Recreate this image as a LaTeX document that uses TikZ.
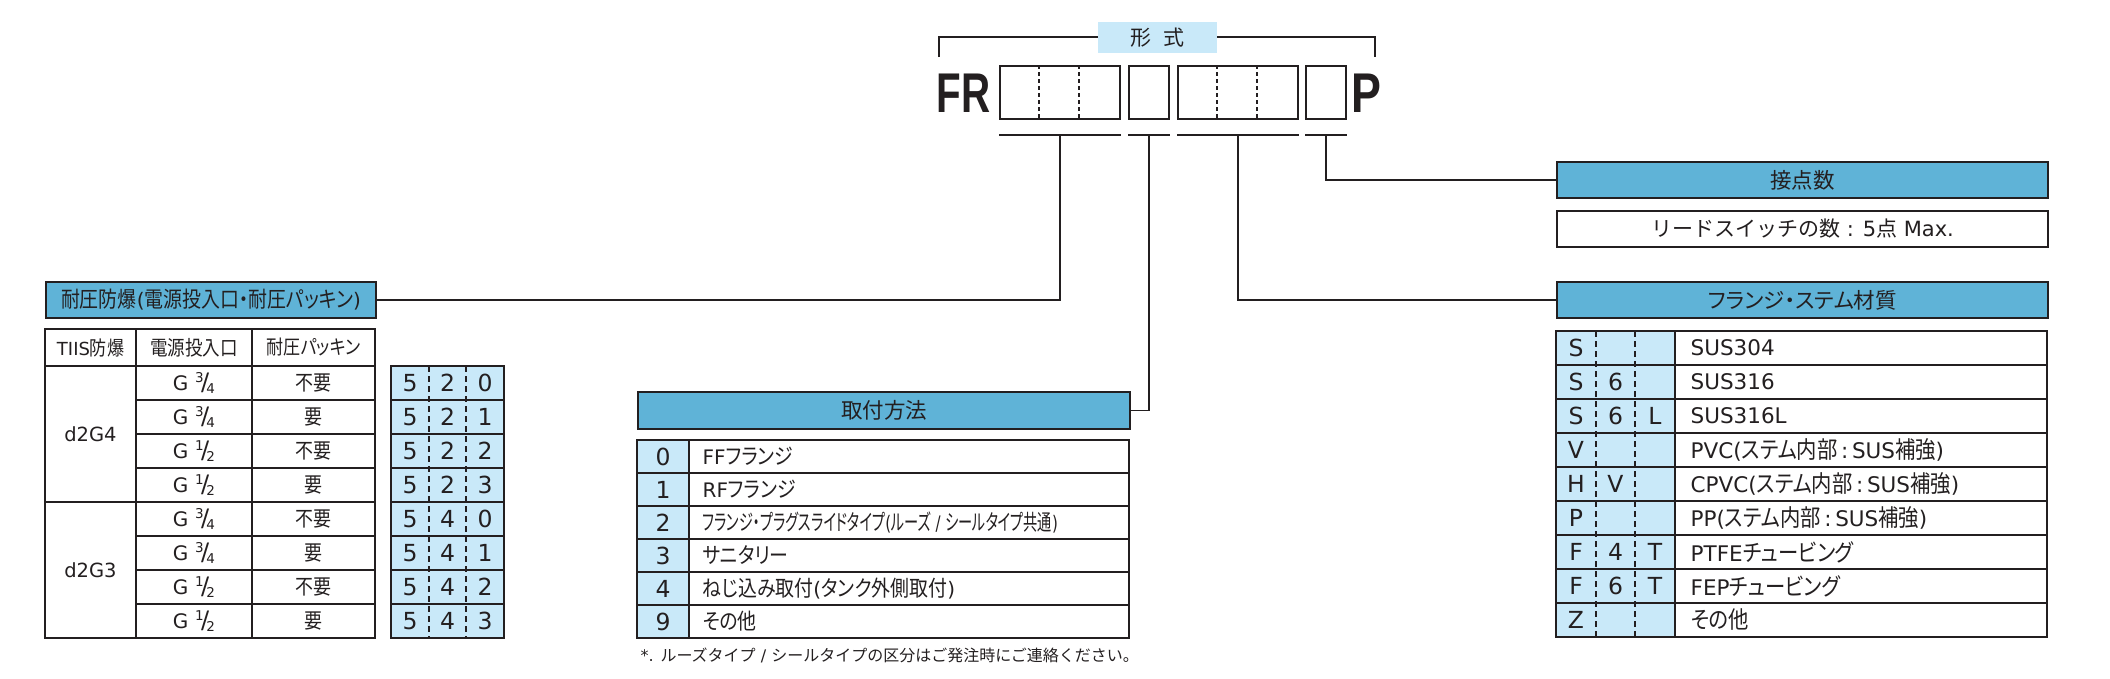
\documentclass[tikz,border=0pt]{standalone}
\usepackage{fontspec}
\setmainfont{DejaVu Sans}
\newfontfamily\latfont{DejaVu Sans}
\newfontfamily\jpfont{Noto Sans CJK JP}[RawFeature=+palt,Scale=1.1,FakeStretch=0.86]
\newfontfamily\jphead{Noto Sans CJK JP}[RawFeature=+palt]
\newfontfamily\jpwide{Noto Sans CJK JP}
\newfontfamily\frfont{Liberation Sans}
% kana and kanji switch to the Japanese font by themselves
\XeTeXinterchartokenstate=1
\newXeTeXintercharclass\cjkclass
\newcount\cjkc
\def\setcjkrange#1#2{\cjkc=#1\relax\loop\XeTeXcharclass\cjkc=\cjkclass\relax\ifnum\cjkc<#2\advance\cjkc by 1\repeat}
\setcjkrange{"3000}{"30FF}
\setcjkrange{"4E00}{"9FFF}
\setcjkrange{"FF00}{"FFEF}
\let\cjkfont\jpfont
\def\widecjk{\let\cjkfont\jpwide}
\def\headcjk{\let\cjkfont\jphead}
\makeatletter
\XeTeXinterchartoks 0 \cjkclass = {\cjkfont}
\XeTeXinterchartoks \e@alloc@intercharclass@top \cjkclass = {\cjkfont}
\XeTeXinterchartoks \cjkclass 0 = {\latfont}
\XeTeXinterchartoks \cjkclass \e@alloc@intercharclass@top = {\latfont}
\makeatother
\usepackage{tikz}
\usetikzlibrary{positioning}
\usetikzlibrary{calc}
\definecolor{hdblue}{HTML}{5FB3D7}
\definecolor{cellblue}{HTML}{C9E9F9}
\definecolor{ink}{HTML}{231F20}
\tikzstyle{header}=[draw=ink,fill=hdblue,line width=2pt,inner sep=0pt,anchor=north west,font=\headcjk\fontsize{21.5}{21.5}\selectfont]
\tikzstyle{fmtbox}=[draw=ink,line width=2pt,inner sep=0pt,minimum height=53pt,anchor=north west]
\tikzstyle{cell}=[inner sep=0pt,font=\fontsize{19}{19}\selectfont]
\tikzstyle{code}=[inner sep=0pt,font=\fontsize{23.5}{23.5}\selectfont]
\tikzstyle{tbl}=[draw=ink,line width=2pt]
\tikzstyle{rowline}=[draw=ink,line width=1.3pt]
\tikzstyle{sep}=[draw=ink,line width=1.3pt,dash pattern=on 6pt off 4pt]
\newcommand\gfrac[2]{{\fontsize{20}{20}\selectfont G}\hspace{.35em}\raisebox{.42em}{\fontsize{13.5}{13.5}\selectfont#1}\kern-.14em{\fontsize{24}{24}\selectfont/}\kern-.14em\raisebox{-.12em}{\fontsize{13.5}{13.5}\selectfont#2}}

\begin{document}
\begin{tikzpicture}[x=1pt,y=-1pt,line width=1.3pt,draw=ink,text=ink]
\useasboundingbox (0,0) rectangle (2110,678);

% model code
\draw (939,57) -- (939,37) -- (1375,37) -- (1375,57);
\node[fill=cellblue,minimum width=119pt,minimum height=31pt,inner sep=0pt,font=\headcjk\fontsize{21}{21}\selectfont] (kei) at (1157.5,37.5) {形\hspace{.6em}式};
\node[inner sep=0pt,anchor=base east,font=\frfont\bfseries\fontsize{56}{56}\selectfont] (fr) at (991,112) {\scalebox{.72}[1]{FR}};
\node[fmtbox,minimum width=120pt] (fbA) at (999,65) {};
\node[fmtbox,minimum width=40pt] (fbB) at (1128,65) {};
\node[fmtbox,minimum width=120pt] (fbC) at (1177,65) {};
\node[fmtbox,minimum width=40pt] (fbD) at (1305,65) {};
\node[inner sep=0pt,anchor=base west,font=\frfont\bfseries\fontsize{56}{56}\selectfont] (p) at (1351,112) {\scalebox{.8}[1]{P}};
\foreach \b in {fbA,fbC}
  \foreach \d in {40,80}
    \draw[sep,line width=1.5pt,dash pattern=on 4pt off 3pt] ($(\b.north west)+(\d,0)$) -- ($(\b.south west)+(\d,0)$);
\foreach \b in {fbA,fbB,fbC,fbD}
  \draw ($(\b.south west)+(0,15)$) -- ($(\b.south east)+(0,15)$);
\coordinate (uA) at ($(fbA.south)+(0,15)$);
\coordinate (uB) at ($(fbB.south)+(0,15)$);
\coordinate (uC) at ($(fbC.south)+(0,15)$);
\coordinate (uD) at ($(fbD.south)+(0,15)$);

% headers
\node[header,minimum width=330pt,minimum height=36pt,font=\fontsize{20}{20}\selectfont\let\cjkfont\jpfont] (hdPress) at (45,281) {耐圧防爆(電源投入口・耐圧パッキン)};
\node[header,minimum width=492pt,minimum height=37pt] (hdMount) at (637,391) {取付方法};
\node[header,minimum width=491pt,minimum height=36pt] (hdCount) at (1556,161) {接点数};
\node[header,fill=white,minimum width=491pt,minimum height=36pt,font=\widecjk\fontsize{21}{21}\selectfont] (boxRead) at (1556,210) {リードスイッチの数 : 5点 Max.};
\node[header,minimum width=491pt,minimum height=36pt] (hdMat) at (1556,281) {フランジ・ステム材質};

% connectors
\draw (uA) |- (hdPress.east);
\draw (uB) |- (hdMount.east);
\draw (uC) |- (hdMat.west);
\draw (uD) |- (hdCount.west);

% pressure table
\draw[rowline] (45,366) -- (375,366);
\draw[rowline] (136,329) -- (136,638);
\draw[rowline] (252,329) -- (252,638);
\draw[rowline] (45,502) -- (136,502);
\foreach \k in {1,...,7}
  \draw[rowline] (136,{366+34*\k}) -- (375,{366+34*\k});
\draw[tbl] (45,329) rectangle (375,638);
\node[cell,font=\fontsize{18}{18}\selectfont] (thA) at (90.5,347.5) {TIIS防爆};
\node[cell,font=\fontsize{18.5}{18.5}\selectfont] (thB) at (194,347.5) {電源投入口};
\node[cell,font=\fontsize{18}{18}\selectfont] (thC) at (313.5,347.5) {耐圧パッキン};
\node[cell,font=\fontsize{19.5}{19.5}\selectfont] (d4) at (90.5,434) {d2G4};
\node[cell,font=\fontsize{19.5}{19.5}\selectfont] (d3) at (90.5,570) {d2G3};
\foreach \n/\m/\req [count=\k from 0] in {3/4/不要,3/4/要,1/2/不要,1/2/要,3/4/不要,3/4/要,1/2/不要,1/2/要}{
  \node[cell] (g\k) at (194,{383+34*\k}) {\gfrac{\n}{\m}};
  \node[cell] (q\k) at (313.5,{383+34*\k}) {\req};
}

% pressure codes
\fill[cellblue] (391,366) rectangle (504,638);
\foreach \k in {1,...,7}
  \draw[rowline] (391,{366+34*\k}) -- (504,{366+34*\k});
\draw[sep] (429,366) -- (429,638);
\draw[sep] (466,366) -- (466,638);
\draw[tbl] (391,366) rectangle (504,638);
\foreach \a/\b/\c [count=\k from 0] in {5/2/0,5/2/1,5/2/2,5/2/3,5/4/0,5/4/1,5/4/2,5/4/3}{
  \node[code] (pa\k) at (410,{383+34*\k}) {\a};
  \node[code] (pb\k) at (447.5,{383+34*\k}) {\b};
  \node[code] (pc\k) at (485,{383+34*\k}) {\c};
}

% mount table
\fill[cellblue] (637,440) rectangle (689,638);
\foreach \k in {1,...,5}
  \draw[rowline] (637,{440+33*\k}) -- (1129,{440+33*\k});
\draw[tbl] (689,440) -- (689,638);
\draw[tbl] (637,440) rectangle (1129,638);
\foreach \c/\t [count=\k from 0] in {0/FFフランジ,1/RFフランジ,2/{\scalebox{.75}[1]{フランジ・プラグスライドタイプ(ルーズ / シールタイプ共通)}},3/サニタリー,4/ねじ込み取付(タンク外側取付),9/その他}{
  \node[code] (mc\k) at (663,{456.5+33*\k}) {\c};
  \node[cell,anchor=west,font=\fontsize{20}{20}\selectfont] (mt\k) at (702,{456.5+33*\k}) {\t};
}
\node[inner sep=0pt,anchor=west,font=\widecjk\fontsize{16}{16}\selectfont] (note) at (640,655) {*. ルーズタイプ / シールタイプの区分はご発注時にご連絡ください。};

% material table
\fill[cellblue] (1556,331) rectangle (1675,637);
\foreach \k in {1,...,8}
  \draw[rowline] (1556,{331+34*\k}) -- (2047,{331+34*\k});
\draw[sep] (1596,331) -- (1596,637);
\draw[sep] (1635,331) -- (1635,637);
\draw[tbl] (1675,331) -- (1675,637);
\draw[tbl] (1556,331) rectangle (2047,637);
\foreach \a/\b/\c/\t [count=\k from 0] in {S///SUS304,S/6//SUS316,S/6/L/SUS316L,V///PVC(ステム内部\,:\,SUS補強),H/V//CPVC(ステム内部\,:\,SUS補強),P///PP(ステム内部\,:\,SUS補強),F/4/T/PTFEチュービング,F/6/T/FEPチュービング,Z///その他}{
  \node[code] (sa\k) at (1576,{348+34*\k}) {\a};
  \node[code] (sb\k) at (1615.5,{348+34*\k}) {\b};
  \node[code] (sc\k) at (1655,{348+34*\k}) {\c};
  \node[cell,anchor=west,font=\fontsize{21.5}{21.5}\selectfont] (st\k) at (1690,{348+34*\k}) {\t};
}
\end{tikzpicture}
\end{document}
